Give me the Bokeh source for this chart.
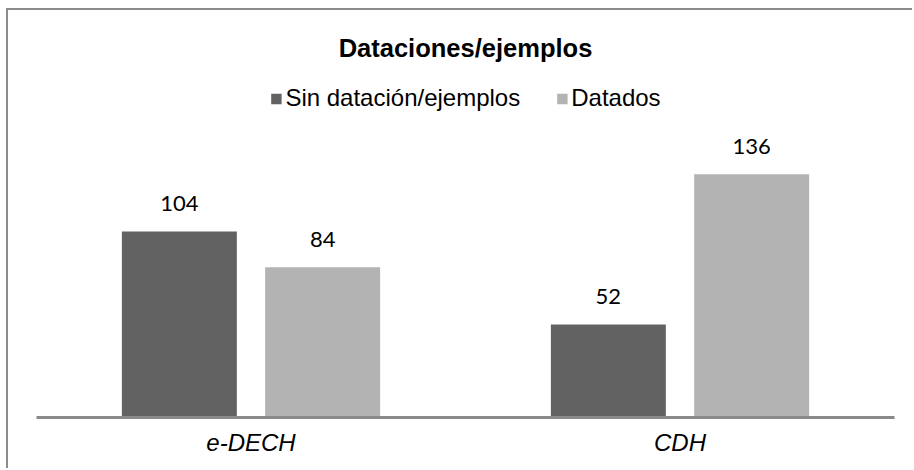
from bokeh.plotting import figure
from bokeh.models import (ColumnDataSource, FactorRange, Range1d, Legend, LegendItem, Label)
from bokeh.transform import dodge
from bokeh.core.properties import value
from bokeh.embed import file_html
from bokeh.resources import INLINE

# ---- data ----
categories = ["e-DECH", "CDH"]
sin_datacion = [104, 52]
datados = [84, 136]
series_names = ["Sin datación/ejemplos", "Datados"]
title_text = "Dataciones/ejemplos"

DARK = "#626262"
LIGHT = "#b3b3b3"
AXIS = "#8a8a8a"
BORDER = "#8c8c8c"

src = ColumnDataSource(dict(
    cat=categories,
    sin=sin_datacion,
    dat=datados,
    sin_lbl=[str(v) for v in sin_datacion],
    dat_lbl=[str(v) for v in datados],
))

W, H = 906, 460
p = figure(width=W, height=H, output_backend="svg", toolbar_location=None,
           x_range=FactorRange(*categories, range_padding=0, factor_padding=0),
           y_range=Range1d(0, 227.6),
           y_axis_location=None, min_border_left=28, min_border_right=20,
           min_border_top=0, min_border_bottom=53)
p.grid.visible = False
p.outline_line_color = None
p.background_fill_color = "white"
p.border_fill_color = "white"
p.styles = {"border-left": f"2px solid {BORDER}", "border-top": f"2px solid {BORDER}",
            "margin-left": "6px", "margin-top": "8px"}

bw = 0.268
off = 0.167
r1 = p.vbar(x=dodge("cat", -off, range=p.x_range), top="sin", width=bw, source=src,
            fill_color=DARK, line_color=None)
r2 = p.vbar(x=dodge("cat", off, range=p.x_range), top="dat", width=bw, source=src,
            fill_color=LIGHT, line_color=None)

for col, lbl, o in (("sin", "sin_lbl", -off), ("dat", "dat_lbl", off)):
    p.text(x=dodge("cat", o, range=p.x_range), y=col, text=lbl, source=src,
           y_offset=-28, text_align="center", text_baseline="alphabetic",
           text_font=value("Lato"), text_font_size="22px", text_color="#000000")

ax = p.xaxis[0]
ax.axis_line_color = AXIS
ax.axis_line_width = 3
ax.major_tick_line_color = None
ax.minor_tick_line_color = None
ax.major_tick_out = 0
ax.major_tick_in = 0
ax.major_label_standoff = 11
ax.major_label_text_font = "Liberation Sans"
ax.major_label_text_font_style = "italic"
ax.major_label_text_font_size = "24px"
ax.major_label_text_color = "#000000"

# title
p.add_layout(Label(x=1.0, y=206.4, text=title_text, text_align="center",
                   text_baseline="alphabetic", text_font="Liberation Sans",
                   text_font_style="bold", text_font_size="25.5px",
                   text_color="#000000"))

legend = Legend(items=[LegendItem(label=series_names[0], renderers=[r1]),
                       LegendItem(label=series_names[1], renderers=[r2])],
                orientation="horizontal", location="top_center",
                glyph_width=13, glyph_height=13, label_standoff=3, spacing=35,
                padding=0, margin=74, border_line_color=None,
                background_fill_alpha=0,
                label_text_font="Liberation Sans", label_text_font_size="24px",
                label_text_color="#000000")
p.add_layout(legend)

open("out.html", "w").write(file_html(p, INLINE))
